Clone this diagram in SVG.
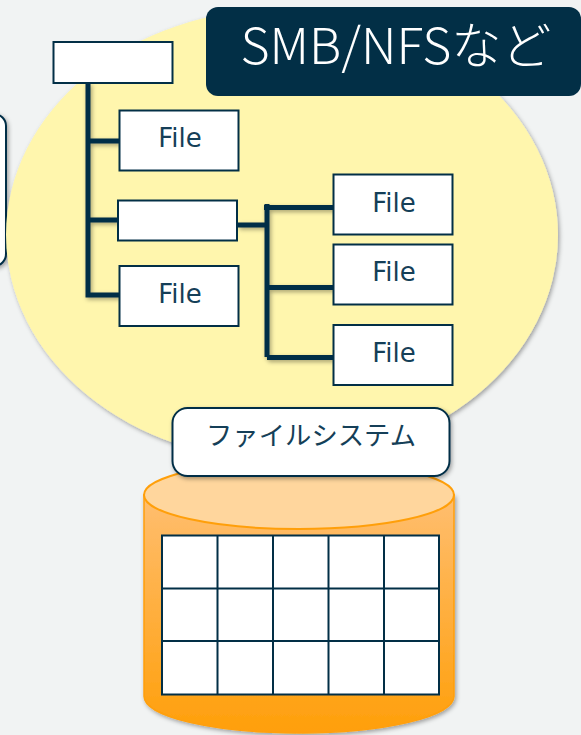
<svg xmlns="http://www.w3.org/2000/svg" width="581" height="735" viewBox="0 0 581 735">
<style>
.box{fill:#fff;stroke:#022f46;stroke-width:2}
.conn{fill:none;stroke:#022f46;stroke-width:5}
.t{font-family:"DejaVu Sans",Verdana,"Noto Sans CJK JP",sans-serif;font-size:26px;fill:#153f58;text-anchor:middle}
.g{stroke:#022f46;stroke-width:2;fill:none}
</style>
<defs>
<filter id="sh" x="-10%" y="-10%" width="125%" height="125%"><feDropShadow dx="1.5" dy="2" stdDeviation="2" flood-color="#000" flood-opacity="0.35"/></filter>
<linearGradient id="cyl" x1="0" y1="0" x2="0" y2="1"><stop offset="0" stop-color="#ffbe70"/><stop offset="1" stop-color="#ff9f0a"/></linearGradient>
</defs>
<rect width="581" height="735" fill="#f1f3f3"/>
<g id="partial-box"><rect x="-40" y="114" width="46" height="152" rx="12" fill="#fff" stroke="#022f46" stroke-width="2" filter="url(#sh)"/></g>
<g id="cloud"><ellipse cx="282" cy="235" rx="276" ry="226" fill="#fff6ad" filter="url(#sh)"/></g>
<g id="connectors" filter="url(#sh)">
<path class="conn" d="M88 83V295H120M88 141H120M88 220H118"/>
<path class="conn" d="M238 225H267M267 204V357M264 207.500H334M267 287.500H333M267 357.500H333"/>
</g>
<g id="root"><rect class="box" x="53.500" y="42" width="119" height="41"/></g>
<g id="file1"><rect class="box" x="119.500" y="110.500" width="119" height="60"/><text class="t" x="180" y="147">File</text></g>
<g id="folder"><rect class="box" x="118" y="200.500" width="119" height="40"/></g>
<g id="file2"><rect class="box" x="119.500" y="266" width="119" height="60"/><text class="t" x="180" y="303">File</text></g>
<g id="file3"><rect class="box" x="333.500" y="174.500" width="119" height="60"/><text class="t" x="394" y="212">File</text></g>
<g id="file4"><rect class="box" x="333.500" y="244.500" width="119" height="60"/><text class="t" x="394" y="281">File</text></g>
<g id="file5"><rect class="box" x="333.500" y="325" width="119" height="60"/><text class="t" x="394" y="362">File</text></g>
<g id="protocol"><rect x="206" y="7" width="375" height="89" rx="12" fill="#022f46"/><text x="396" y="64" font-family="'Noto Sans CJK JP','Noto Sans',sans-serif" font-weight="300" font-size="50" fill="#fff" text-anchor="middle" textLength="311" lengthAdjust="spacingAndGlyphs">SMB/NFSなど</text></g>
<g id="cylinder">
<path d="M144 495V696C144 717 214 733 299 733S454 717 454 696V495Z" fill="url(#cyl)" stroke="#ff9f0a" stroke-width="1.500" filter="url(#sh)"/>
<ellipse cx="299" cy="495" rx="155" ry="34" fill="#ffd69d" stroke="#ff9f0a" stroke-width="2"/>
</g>
<g id="table">
<rect x="162" y="535.500" width="277" height="159" fill="#fff" stroke="#022f46" stroke-width="2"/>
<path class="g" d="M217.500 535.500V694.500M273 535.500V694.500M328.500 535.500V694.500M384 535.500V694.500M162 588.500H439M162 641H439"/>
</g>
<g id="filesystem"><rect x="172.500" y="408" width="277" height="68" rx="15" fill="#fff" stroke="#022f46" stroke-width="2" filter="url(#sh)"/><text x="311" y="445" font-family="'Noto Sans CJK JP',sans-serif" font-weight="400" font-size="26" fill="#153f58" text-anchor="middle" textLength="210" lengthAdjust="spacingAndGlyphs">ファイルシステム</text></g>
</svg>
